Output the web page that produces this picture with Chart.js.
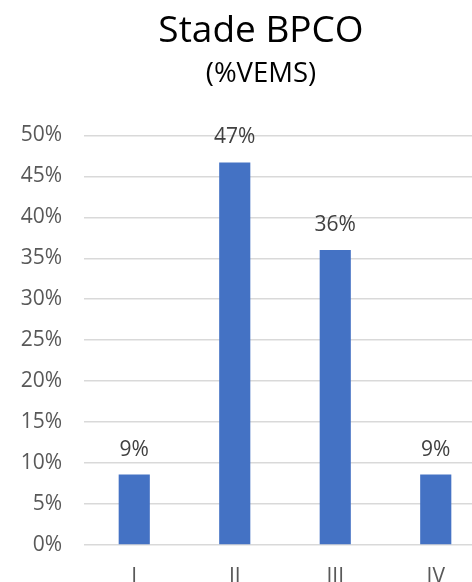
<!DOCTYPE html>
<html lang="fr">
<head>
    <meta charset="UTF-8">
    <title>Stade BPCO</title>
    <script src="https://cdn.jsdelivr.net/npm/chart.js"></script>
    <style>
        html, body { margin: 0; padding: 0; background: #fff; overflow: hidden; }
        .chart-box { width: 522px; height: 600px; }
    </style>
</head>
<body>
    <div class="chart-box">
        <canvas id="bpcoChart"></canvas>
    </div>

    <script>
        const stades = ["I", "II", "III", "IV"];
        const pourcentages = [8.6, 46.7, 36.0, 8.6];
        const yTicks = [0, 5, 10, 15, 20, 25, 30, 35, 40, 45, 50];

        const FONT = "'Open Sans', 'Liberation Sans', sans-serif";

        // draws the value above each bar
        const valueLabels = {
            id: "valueLabels",
            afterDatasetsDraw(chart) {
                const ctx = chart.ctx;
                const meta = chart.getDatasetMeta(0);
                ctx.save();
                ctx.font = "21px " + FONT;
                ctx.fillStyle = "#404040";
                ctx.textAlign = "center";
                ctx.textBaseline = "middle";
                meta.data.forEach((bar, i) => {
                    ctx.fillText(Math.round(pourcentages[i]) + "%", bar.x, bar.y - 25);
                });
                ctx.restore();
            }
        };

        new Chart(document.getElementById("bpcoChart"), {
            type: "bar",
            data: {
                labels: stades,
                datasets: [{
                    data: pourcentages,
                    backgroundColor: "#4472c4",
                    barPercentage: 1,
                    categoryPercentage: 0.31
                }]
            },
            options: {
                responsive: true,
                maintainAspectRatio: false,
                animation: false,
                layout: { padding: 0 },
                plugins: {
                    legend: { display: false },
                    tooltip: { enabled: false },
                    title: {
                        display: true,
                        text: "Stade BPCO",
                        color: "#000",
                        font: { family: FONT, size: 37, weight: "normal" },
                        padding: { top: 9, bottom: 0 }
                    },
                    subtitle: {
                        display: true,
                        text: "(%VEMS)",
                        color: "#000",
                        font: { family: FONT, size: 27.5, weight: "normal" },
                        padding: { top: 4, bottom: 45 }
                    }
                },
                scales: {
                    x: {
                        grid: { display: false, drawTicks: false },
                        border: { display: false },
                        ticks: {
                            color: "#595959",
                            font: { family: FONT, size: 21 },
                            padding: 19
                        },
                        afterFit(scale) { scale.height = 55; }
                    },
                    y: {
                        min: 0,
                        max: 50,
                        afterBuildTicks(scale) {
                            scale.ticks = yTicks.map(v => ({ value: v }));
                        },
                        grid: { color: "#d9d9d9", lineWidth: 1.5, drawTicks: false },
                        border: { display: false },
                        ticks: {
                            color: "#595959",
                            font: { family: FONT, size: 21 },
                            padding: 22,
                            callback: v => v + "%"
                        },
                        afterFit(scale) { scale.width = 84; }
                    },
                    // empty right-hand strip so the title stays centred on the full width
                    yRight: {
                        position: "right",
                        min: 0,
                        max: 50,
                        grid: { display: false, drawTicks: false },
                        border: { display: false },
                        ticks: { display: false },
                        afterFit(scale) { scale.width = 36; }
                    }
                }
            },
            plugins: [valueLabels]
        });
    </script>
</body>
</html>
